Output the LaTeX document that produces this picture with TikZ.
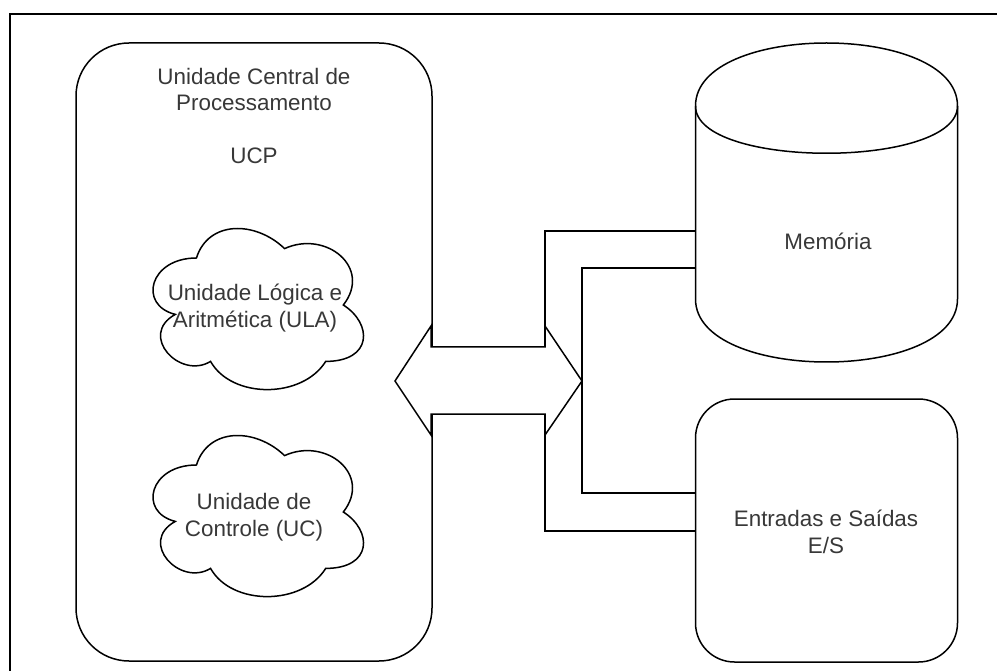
\documentclass[tikz,border=0pt]{standalone}
\usepackage{fontspec}
\setmainfont{Liberation Sans}

% cloud outline in a unit box, placed at its top-left corner (#1,#2)
\newcommand{\cloudoutline}[2]{%
  \draw[box,shift={(#1,#2)},xscale=235,yscale=188]
    (0.25,0.25) .. controls (0.05,0.25) and (0,0.5) .. (0.16,0.55)
    .. controls (0,0.66) and (0.18,0.9) .. (0.31,0.8)
    .. controls (0.4,1) and (0.7,1) .. (0.8,0.8)
    .. controls (1,0.8) and (1,0.6) .. (0.875,0.5)
    .. controls (1,0.3) and (0.8,0.1) .. (0.625,0.2)
    .. controls (0.5,0.05) and (0.3,0.05) .. (0.25,0.25) -- cycle;}

\begin{document}
\begin{tikzpicture}[x=1pt,y=-1pt,
  box/.style={draw=black, line width=1.5pt, fill=white},
  wire/.style={draw=black, line width=1.5pt},
  lbl/.style={text=black!78, font=\fontsize{22.4}{26.5}\selectfont,
              align=center, inner sep=0pt},
  area/.style={inner sep=0pt, outer sep=0pt}]

\useasboundingbox (0,0) rectangle (997,671);
\fill[white] (0,0) rectangle (997,671);

% outer frame (only top and left edges fall inside the page)
\draw[line width=2pt] (997,14) -- (10,14) -- (10,671);

% central processing unit
\node[box, area, rounded corners=53pt, minimum width=356pt,
      minimum height=618pt] (ucp) at (254,352) {};
\node[lbl] (ucptitle) at (254,116)
  {Unidade Central de\\Processamento\\[26.5pt]UCP};

% ALU and control unit
\cloudoutline{137.7}{211}
\node[lbl] (ula) at (255,308) {Unidade Lógica e\\Aritmética (ULA)};
\cloudoutline{137.7}{418}
\node[lbl] (uc) at (254,517) {Unidade de\\Controle (UC)};

% bus: double-headed block arrow
\coordinate (arrL)  at (395,381);
\coordinate (arrTip) at (582,381);
\coordinate (arrTR) at (545,347);
\coordinate (arrBR) at (545,414);
\draw[box] (arrL) -- (431,326) -- (431,347) -- (arrTR) -- (545,326)
  -- (arrTip) -- (545,435) -- (arrBR) -- (431,414) -- (431,435) -- cycle;

% memory cylinder
\node[area, minimum width=262pt, minimum height=319pt] (mem) at (826.5,202.5) {};
\draw[box] (695.5,106) .. controls (695.5,22) and (957.5,22) .. (957.5,106)
  -- (957.5,299) .. controls (957.5,383) and (695.5,383) .. (695.5,299) -- cycle;
\draw[wire] (695.5,106) .. controls (695.5,169) and (957.5,169) .. (957.5,106);
\node[lbl] (memtxt) at (828,241) {Memória};

% input/output
\node[box, area, rounded corners=39pt, minimum width=262pt,
      minimum height=263pt] (es) at (826.5,530.5) {};
\node[lbl] (estxt) at (826,532) {Entradas e Saídas\\E/S};

% bus connections
\draw[wire] ([yshift=-28.5pt]mem.west) -| (arrTR);
\draw[wire] ([yshift=-65.5pt]mem.west) -| (arrTip);
\draw[wire] ([yshift=37.5pt]es.west) -| (arrTip);
\draw[wire] ([yshift=-0.5pt]es.west) -| (arrBR);
\end{tikzpicture}
\end{document}
